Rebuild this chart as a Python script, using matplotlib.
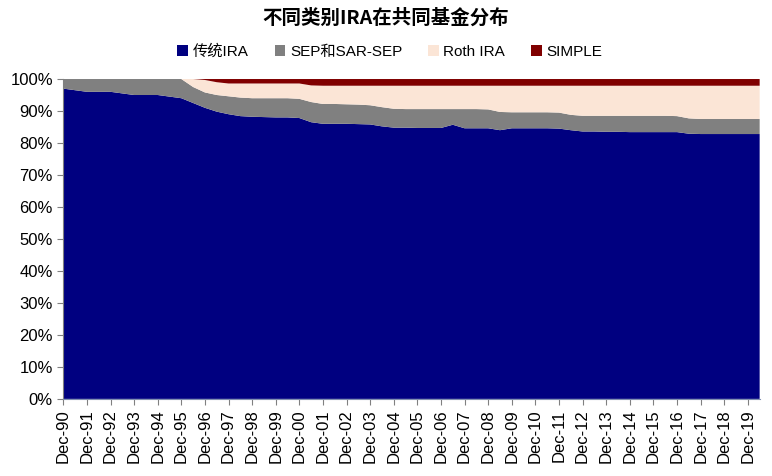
import numpy as np
import matplotlib
matplotlib.use("Agg")
import matplotlib.pyplot as plt
from matplotlib.ticker import FuncFormatter

plt.rcParams['font.family'] = ['Liberation Sans', 'Noto Sans CJK SC', 'DejaVu Sans']

# 半年度数据点, Dec-90 ... Jun-20
years = ['90', '91', '92', '93', '94', '95', '96', '97', '98', '99',
         '00', '01', '02', '03', '04', '05', '06', '07', '08', '09',
         '10', '11', '12', '13', '14', '15', '16', '17', '18', '19']
tick_labels = ['Dec-' + y for y in years]

traditional = [97, 96.5, 96, 96, 96, 95.5, 95, 95, 95, 94.5,
               94, 92.5, 91, 89.8, 89, 88.4, 88.2, 88.1, 88, 88,
               87.8, 86.5, 86, 86, 86, 85.9, 85.8, 85.2, 84.8, 84.8,
               84.7, 84.7, 84.7, 85.7, 84.6, 84.6, 84.6, 84.0, 84.6, 84.6,
               84.6, 84.6, 84.5, 84.0, 83.6, 83.6, 83.5, 83.5, 83.4, 83.4,
               83.4, 83.4, 83.4, 82.9, 82.8, 82.8, 82.8, 82.8, 82.8, 82.8]
sep = [3, 3.5, 4, 4, 4, 4.5, 5, 5, 5, 5.5,
       6, 5, 4.8, 5.2, 5.6, 5.8, 5.8, 5.9, 6.0, 6.0,
       6.0, 6.3, 6.2, 6.2, 6.1, 6.1, 6.0, 6.0, 5.9, 5.8,
       5.9, 5.9, 5.9, 4.9, 6.0, 6.0, 5.9, 5.7, 5.0, 5.0,
       5.0, 5.0, 5.0, 4.8, 4.9, 4.9, 5.0, 5.0, 5.1, 5.1,
       5.1, 5.1, 5.0, 4.8, 4.7, 4.7, 4.7, 4.7, 4.7, 4.7]
roth = [0, 0, 0, 0, 0, 0, 0, 0, 0, 0,
        0, 2.5, 3.9, 4.0, 4.0, 4.4, 4.6, 4.6, 4.6, 4.6,
        4.8, 5.2, 5.7, 5.7, 5.8, 5.9, 6.1, 6.7, 7.2, 7.3,
        7.3, 7.3, 7.3, 7.3, 7.3, 7.3, 7.4, 8.2, 8.3, 8.3,
        8.3, 8.3, 8.4, 9.1, 9.4, 9.4, 9.4, 9.4, 9.4, 9.4,
        9.4, 9.4, 9.5, 10.2, 10.4, 10.4, 10.4, 10.4, 10.4, 10.4]
simple = [0, 0, 0, 0, 0, 0, 0, 0, 0, 0,
          0, 0, 0.3, 1.0, 1.4, 1.4, 1.4, 1.4, 1.4, 1.4,
          1.4, 2.0, 2.1, 2.1, 2.1, 2.1, 2.1, 2.1, 2.1, 2.1,
          2.1, 2.1, 2.1, 2.1, 2.1, 2.1, 2.1, 2.1, 2.1, 2.1,
          2.1, 2.1, 2.1, 2.1, 2.1, 2.1, 2.1, 2.1, 2.1, 2.1,
          2.1, 2.1, 2.1, 2.1, 2.1, 2.1, 2.1, 2.1, 2.1, 2.1]

names = ['传统IRA', 'SEP和SAR-SEP', 'Roth IRA', 'SIMPLE']
colors = ['#000080', '#808080', '#FBE5D6', '#800000']

x = np.arange(len(traditional))

fig = plt.figure(figsize=(7.72, 4.76), dpi=100)
ax = fig.add_axes([0.082, 0.162, 0.902, 0.672])
ax.stackplot(x, traditional, sep, roth, simple, colors=colors, labels=names)

ax.set_xlim(0, len(x) - 1)
ax.set_ylim(0, 100)
ax.set_xticks(np.arange(0, len(x), 2))
ax.set_xticklabels(tick_labels, rotation=90, fontsize=12)
ax.set_yticks(np.arange(0, 101, 10))
ax.yaxis.set_major_formatter(FuncFormatter(lambda v, p: '%d%%' % v))
ax.tick_params(axis='y', labelsize=12, length=4, color='#808080')
ax.tick_params(axis='x', length=4, color='#808080')
for s in ['top', 'right']:
    ax.spines[s].set_visible(False)
ax.spines['left'].set_color('#808080')
ax.spines['bottom'].set_color('#8090b0')

fig.text(0.5, 0.962, '不同类别IRA在共同基金分布', ha='center', va='center',
         fontsize=14, fontweight='bold', family=['Noto Sans CJK SC'])

handles, labels = ax.get_legend_handles_labels()
fig.legend(handles, labels, loc='center', bbox_to_anchor=(0.505, 0.892), ncol=4,
           frameon=False, fontsize=11, handlelength=0.7, handleheight=0.7,
           handletextpad=0.3, columnspacing=1.7)

fig.savefig('out.png', dpi=100)
